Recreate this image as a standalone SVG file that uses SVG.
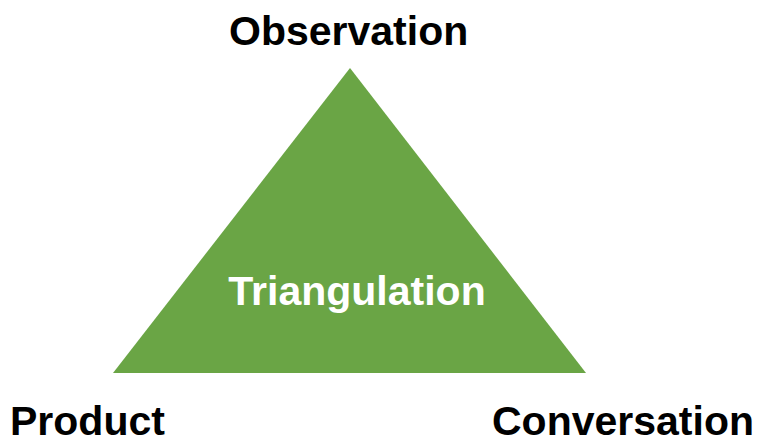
<svg xmlns="http://www.w3.org/2000/svg" width="758" height="441" viewBox="0 0 758 441">
<style>
.lbl{font-family:"Liberation Sans",Arial,sans-serif;font-weight:bold;font-size:41px;fill:#000}
.in{fill:#fff;text-anchor:middle}
</style>
<rect width="758" height="441" fill="#fff"/>
<g id="triangle">
<polygon points="350,68 113,373 586,373" fill="#6aa545"/>
<text class="lbl in" x="357" y="305">Triangulation</text>
</g>
<g id="observation"><text class="lbl" x="229" y="45">Observation</text></g>
<g id="product"><text class="lbl" x="10" y="435">Product</text></g>
<g id="conversation"><text class="lbl" x="492" y="435">Conversation</text></g>
<g id="connectors"></g>
</svg>
